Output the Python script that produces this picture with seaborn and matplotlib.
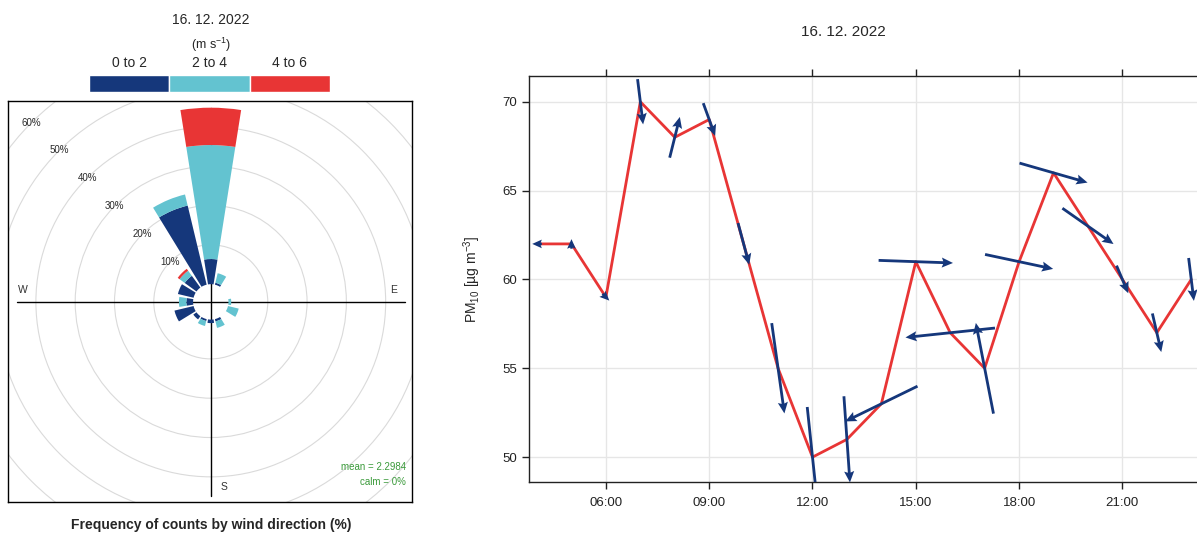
import numpy as np
import pandas as pd
import matplotlib
matplotlib.use('Agg')
import matplotlib.pyplot as plt
import matplotlib.dates as mdates
from matplotlib.patches import Wedge, Circle
import seaborn as sns

# hourly PM10 and wind for the day
date_label = '16. 12. 2022'
hours = [4, 5, 6, 7, 8, 9, 10, 11, 12, 13, 14, 15, 16, 17, 18, 19, 20, 21, 22, 23]
pm10 = [62, 62, 59, 70, 68, 69, 62, 55, 50, 51, 53, 61, 57, 55, 61, 66, 63, 60, 57, 60]
ws = [0.4, 0.4, 0.4, 1.9, 1.75, 1.45, 1.8, 3.8, 4.2, 3.6, 3.35, 3.1, 3.75, 3.85,
      2.9, 2.95, 2.6, 1.25, 1.65, 1.8]
wd = [90, 180, 315, 353, 194, 340, 345, 352, 354, 356, 64, 272, 84, 169,
      282, 286, 305, 337, 347, 353]

# wind rose: % of counts per direction sector and speed bin
rose_dirs = [0, 22.5, 45, 67.5, 90, 112.5, 135, 157.5,
             180, 202.5, 225, 247.5, 270, 292.5, 315, 337.5]
rose_0_2 = [6.4, 0.5, 0, 0, 0, 0, 0, 0.6, 0.9, 0.5, 1.0, 5.0, 1.7, 4.1, 3.7, 20.7]
rose_2_4 = [29.0, 2.5, 0, 0, 0.7, 2.8, 0, 1.7, 0, 1.3, 0, 0, 1.9, 0, 1.6, 2.9]
rose_4_6 = [9.5, 0, 0, 0, 0, 0, 0, 0, 0, 0, 0, 0, 0, 0, 0.6, 0]
ws_bins = ['0 to 2', '2 to 4', '4 to 6']
mean_ws = 2.2984
calm_pct = 0
ring_levels = [10, 20, 30, 40, 50, 60, 70]

bin_colors = ['#15377b', '#63c3d0', '#e83535']
arrow_color = '#15377b'
line_color = '#e83535'

sns.set_style('ticks')
plt.rcParams['font.family'] = ['Liberation Sans', 'DejaVu Sans']
plt.rcParams['mathtext.default'] = 'regular'

W, H = 1197, 536
fig = plt.figure(figsize=(W / 100, H / 100), dpi=100)

# ---------------- wind rose ----------------
ax = fig.add_axes([8 / W, 34 / H, 404 / W, 401 / H])
off = 4.5
ax.set_xlim(-51.6, 51.2)
ax.set_ylim(-50.9, 51.1)
ax.set_xticks([])
ax.set_yticks([])
for s in ax.spines.values():
    s.set_color('black')
    s.set_linewidth(1.0)

for lev in ring_levels:
    ax.add_patch(Circle((0, 0), off + lev, fill=False, ec='#dadada', lw=0.8, zorder=1))
for lev in ring_levels[:-1]:
    r = off + lev
    ax.text(r * np.cos(np.radians(135)), r * np.sin(np.radians(135)), f'{lev}%',
            ha='center', va='center', fontsize=7, color='#2a2a2a', zorder=2)

totals = np.array(rose_0_2) + np.array(rose_2_4) + np.array(rose_4_6)
R = off + totals.max()
ax.plot([-R, R], [0, 0], color='black', lw=1, zorder=2)
ax.plot([0, 0], [-R, R], color='black', lw=1, zorder=2)
ax.text(-R + 1.6, 3, 'W', ha='center', va='center', fontsize=7.5, color='#333333')
ax.text(R - 3, 3, 'E', ha='center', va='center', fontsize=7.5, color='#333333')
ax.text(3.3, -R + 2.3, 'S', ha='center', va='center', fontsize=7.5, color='#333333')
ax.text(3.3, R - 2.3, 'N', ha='center', va='center', fontsize=7.5, color='#333333', zorder=1)

half = 0.8 * 22.5 / 2
for i, d in enumerate(rose_dirs):
    cum = 0
    for vals, col in zip([rose_0_2, rose_2_4, rose_4_6], bin_colors):
        h = vals[i]
        if h > 0:
            ax.add_patch(Wedge((0, 0), off + cum + h, 90 - d - half, 90 - d + half,
                               width=h, fc=col, ec='none', zorder=3))
        cum += h

ax.text(0.985, 0.088, f'mean = {mean_ws}', transform=ax.transAxes, ha='right', va='center',
        fontsize=7, color='#3a9a3a')
ax.text(0.985, 0.05, f'calm = {calm_pct}%', transform=ax.transAxes, ha='right', va='center',
        fontsize=7, color='#3a9a3a')

fig.text(211 / W, 1 - 20 / H, date_label, ha='center', va='center', fontsize=10)
fig.text(211 / W, 1 - 45 / H, r'(m s$^{-1}$)', ha='center', va='center', fontsize=9)
fig.text(211 / W, 1 - 525 / H, 'Frequency of counts by wind direction (%)',
         ha='center', va='center', fontsize=10, fontweight='bold')

# speed-bin key
kax = fig.add_axes([89 / W, 1 - 92 / H, 241 / W, 17 / H])
kax.bar(range(len(ws_bins)), [1] * len(ws_bins), width=1, color=bin_colors)
kax.set_xlim(-0.5, len(ws_bins) - 0.5)
kax.set_ylim(0, 1)
kax.set_yticks([])
kax.set_xticks(range(len(ws_bins)))
kax.set_xticklabels(ws_bins, fontsize=10)
kax.tick_params(axis='x', top=False, bottom=False, labeltop=True, labelbottom=False, pad=0)
for s in kax.spines.values():
    s.set_visible(False)

# ---------------- PM10 time series ----------------
ax2 = fig.add_axes([529 / W, 54 / H, 668 / W, 406 / H])
times = pd.Timestamp('2022-12-16') + pd.to_timedelta(hours, unit='h')
df = pd.DataFrame({'time': times, 'pm10': pm10, 'ws': ws, 'wd': wd})
sns.lineplot(data=df, x='time', y='pm10', color=line_color, lw=2, ax=ax2, zorder=2)

u = -df['ws'] * np.sin(np.radians(df['wd']))
v = -df['ws'] * np.cos(np.radians(df['wd']))
ax2.quiver(mdates.date2num(df['time']), df['pm10'], u, v, units='dots', scale_units='dots',
           scale=1 / 24, pivot='middle', width=2.8, headwidth=3.6, headlength=4.0,
           headaxislength=3.5, color=arrow_color, zorder=3)

ax2.set_xlim(pd.Timestamp('2022-12-16 03:46'), pd.Timestamp('2022-12-16 23:10'))
ax2.set_ylim(48.6, 71.45)
ax2.set_yticks([50, 55, 60, 65, 70])
ax2.xaxis.set_major_locator(mdates.HourLocator(byhour=[6, 9, 12, 15, 18, 21]))
ax2.xaxis.set_major_formatter(mdates.DateFormatter('%H:%M'))
ax2.tick_params(axis='both', direction='out', length=5, width=1, labelsize=9.5, colors='#222222')
ax2.tick_params(axis='x', top=True, pad=6)
ax2.grid(True, color='#e6e6e6', lw=1)
ax2.set_axisbelow(True)
ax2.spines['right'].set_visible(False)
for s in ['left', 'top', 'bottom']:
    ax2.spines[s].set_color('#222222')
    ax2.spines[s].set_linewidth(1.0)
ax2.set_xlabel('')
ax2.set_ylabel(r'PM$_{10}$ [µg m$^{-3}$]', fontsize=10, labelpad=14)

fig.text(843 / W, 1 - 32 / H, date_label, ha='center', va='center', fontsize=11)

fig.savefig('out.png', dpi=100, facecolor='white')
